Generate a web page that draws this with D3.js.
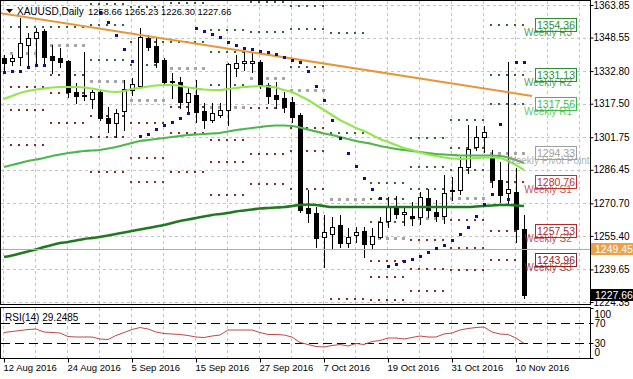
<!DOCTYPE html>
<html><head><meta charset="utf-8">
<script src="https://cdn.jsdelivr.net/npm/d3@7"></script>
<style>
html,body{margin:0;padding:0;background:#fff;}
svg{display:block;}
</style></head><body>
<svg id="c" width="633" height="379"></svg>
<script>
// ---------------- DATA ----------------
const symbolName = "XAUUSD,Daily";
const headerOHLC = [1258.66, 1265.23, 1226.30, 1227.66];
const firstDay = "2016-08-12";
const priceTicks = [1363.85,1348.55,1332.80,1317.50,1301.75,1286.45,1270.70,1255.40,1239.65,1224.35];
const rsiTicks = [100,70,30,0];
const rsiLevels = [70,30];
const hLine = 1249.45;
const lastClose = 1227.66;
const rsiName = "RSI(14) 29.2485";

const open = [1338.96,1337.55,1339.43,1345.06,1348.35,1351.64,1339.90,1338.96,1337.55,1322.99,1321.58,1319.70,1322.99,1310.78,1308.43,1314.06,1323.93,1325.81,1348.35,1344.59,1338.02,1328.15,1327.68,1318.29,1321.58,1314.06,1309.84,1312.19,1314.53,1334.26,1336.61,1336.61,1337.08,1326.28,1321.58,1320.17,1318.29,1312.19,1268.50,1266.15,1254.88,1256.29,1260.52,1252.06,1255.82,1257.70,1251.59,1254.88,1262.40,1268.97,1265.68,1264.74,1264.27,1273.20,1266.62,1264.74,1276.49,1276.96,1287.76,1297.15,1301.85,1291.99,1281.65,1275.55,1276.02,1258.66];
const high = [1340.37,1340.37,1357.75,1350.70,1353.05,1352.58,1345.06,1343.65,1338.02,1327.21,1341.78,1323.93,1323.93,1315.94,1315.00,1328.62,1329.56,1353.05,1349.76,1348.82,1338.96,1331.91,1330.03,1324.87,1328.62,1317.82,1317.82,1317.82,1336.61,1340.37,1341.78,1341.78,1338.02,1327.21,1327.68,1322.99,1320.64,1313.12,1276.96,1268.97,1265.21,1264.27,1265.21,1259.11,1259.58,1259.58,1259.11,1264.27,1273.67,1274.14,1268.50,1271.32,1276.02,1277.42,1272.26,1284.00,1283.06,1292.46,1307.49,1307.02,1307.02,1295.75,1290.11,1337.08,1287.29,1265.23];
const low = [1333.32,1335.67,1335.67,1335.67,1336.61,1335.67,1331.91,1334.73,1320.64,1317.82,1319.23,1315.47,1309.84,1304.20,1301.85,1305.14,1321.58,1324.87,1342.72,1334.73,1327.21,1320.17,1315.47,1313.12,1308.90,1306.08,1308.90,1311.25,1307.49,1330.50,1333.32,1332.38,1324.87,1317.82,1315.47,1313.59,1308.90,1266.62,1261.93,1250.18,1240.79,1249.71,1250.18,1250.18,1252.53,1245.49,1249.71,1254.41,1259.58,1263.80,1260.52,1260.52,1260.99,1264.27,1262.40,1261.46,1272.26,1275.08,1284.94,1295.75,1294.81,1278.36,1271.32,1270.85,1252.53,1226.30];
const close = [1336.61,1338.96,1346.00,1348.35,1351.17,1339.43,1338.02,1337.08,1322.99,1321.11,1321.11,1322.99,1310.78,1308.43,1313.12,1324.40,1326.75,1348.82,1344.12,1337.08,1327.68,1327.68,1318.29,1322.52,1313.59,1309.84,1313.12,1314.53,1336.14,1336.61,1337.55,1337.55,1325.81,1321.11,1319.70,1315.94,1311.25,1267.56,1266.15,1254.41,1257.23,1259.58,1252.06,1254.88,1257.23,1251.59,1255.35,1261.93,1268.97,1265.68,1266.62,1263.80,1273.67,1267.56,1264.74,1275.55,1276.96,1287.76,1296.22,1301.85,1304.20,1281.65,1274.61,1277.42,1258.64,1227.66];

const maFast = [1319.70,1321.11,1322.52,1323.46,1324.16,1324.63,1325.10,1325.34,1325.34,1325.34,1325.10,1324.63,1323.93,1323.22,1322.99,1323.46,1324.40,1324.87,1325.57,1326.04,1326.28,1326.28,1325.81,1325.10,1324.63,1324.16,1323.93,1323.93,1324.40,1324.87,1325.34,1325.57,1325.81,1325.57,1325.10,1323.93,1322.99,1321.11,1319.23,1316.88,1314.53,1312.19,1309.84,1307.96,1306.08,1304.67,1302.79,1300.91,1299.50,1298.09,1296.68,1295.75,1294.57,1293.63,1292.93,1292.22,1291.75,1291.52,1291.75,1291.99,1292.22,1292.22,1291.99,1290.58,1288.70,1286.35];
const maMid = [1287.76,1288.70,1289.64,1290.58,1291.28,1291.99,1292.93,1293.63,1294.34,1294.81,1295.28,1295.51,1295.75,1296.45,1297.15,1298.09,1299.03,1299.97,1300.44,1300.91,1301.38,1301.85,1302.32,1302.79,1303.03,1303.26,1303.50,1303.73,1304.44,1305.14,1305.61,1306.08,1306.55,1307.02,1307.26,1307.26,1307.02,1306.31,1305.38,1304.44,1303.50,1302.79,1301.85,1300.91,1299.97,1299.27,1298.56,1297.62,1296.92,1296.22,1295.75,1295.28,1294.81,1294.34,1293.87,1293.63,1293.40,1293.16,1293.16,1293.16,1293.16,1293.16,1292.93,1292.22,1291.05,1289.64];
const maSlow = [1245.49,1246.19,1247.13,1248.07,1249.01,1250.18,1251.12,1252.06,1252.53,1253.24,1253.94,1254.41,1254.88,1255.59,1256.29,1257.00,1257.70,1258.41,1259.11,1259.82,1260.52,1261.46,1262.40,1263.10,1263.80,1264.51,1265.21,1265.68,1266.15,1266.86,1267.33,1267.80,1268.27,1268.50,1268.74,1268.97,1269.44,1269.91,1270.15,1269.91,1269.44,1268.97,1268.97,1268.97,1268.97,1268.97,1268.97,1268.97,1268.97,1268.97,1268.97,1268.97,1268.97,1268.97,1268.97,1268.97,1268.97,1268.97,1268.97,1269.21,1269.44,1269.68,1269.91,1269.91,1269.68,1269.44];
const sar = [1332.38,1332.85,1332.85,1334.73,1335.67,1335.67,null,null,null,null,null,null,1360.56,1355.87,1349.76,1343.19,1337.55,1302.32,1303.26,1305.61,1307.49,1308.90,1310.78,1313.12,1353.05,1351.64,1350.23,1348.82,1346.47,1345.06,1343.65,1343.19,1342.25,1341.78,1340.84,1339.43,1338.02,1337.08,1332.85,1325.81,1319.23,1309.84,1301.38,1294.34,1288.23,1282.59,1277.42,1273.20,1241.26,1242.20,1243.61,1244.55,1245.96,1247.84,1249.71,1251.12,1253.47,1256.29,1259.58,1264.74,1270.38,1275.08,1307.96,1272.73,1337.08,1337.08];
const rsi = [51,53,55,57,58,52,51,50,43,42,42,42,38,37,45,51,57,61,58,52,49,48,47,45,42,41,44,46,56,56,56,56,51,47,47,46,42,31,27,23,22,25,27,24,29,27,33,35,40,40,38,41,44,42,42,48,50,56,59,61,62,52,48,47,40,29.2485];

// trend line anchors: [bar index, price]
const trendLine = [[-0.5, 1360.1], [66, 1321.1]];

// weekly pivot levels (one value per full week shown)
const pivR3 = [1378.88,1376.06,1364.32,1362.91,1377.00,1352.11,1386.87,1363.38,1381.70,1280.25,1301.38,1309.84,1354.36];
const pivR2 = [1368.08,1367.61,1354.46,1346.47,1364.79,1341.78,1365.26,1352.58,1350.70,1272.73,1287.76,1296.68,1331.13];
const pivR1 = [1353.52,1353.52,1338.02,1335.67,1346.47,1326.28,1351.17,1334.73,1303.73,1261.93,1277.42,1286.35,1317.56];
const pivPP = [1341.31,1345.06,1328.15,1319.23,1334.26,1315.94,1329.56,1323.93,1272.73,1254.41,1263.80,1273.20,1294.33];
const pivS1 = [1325.34,1330.97,1311.72,1308.43,1315.94,1300.44,1315.47,1306.08,1225.76,1243.61,1253.47,1262.87,1280.76];
const pivS2 = [1314.53,1322.52,1301.85,1291.99,1303.73,1290.11,1293.87,1295.28,1194.76,1236.10,1239.85,1249.71,1257.53];
const pivS3 = [1298.09,1308.43,1285.41,1280.71,1285.41,1274.61,1279.78,1277.42,1147.80,1225.29,1229.52,1239.38,1243.96];
const pivNames = ["Weekly R3","Weekly R2","Weekly R1","Weekly Pivot Point","Weekly S1","Weekly S2","Weekly S3"];

// ---------------- CHART ----------------
const W = 633, H = 379;
const FONT = '"Liberation Sans", Arial, sans-serif';
const M = {l:0.5, r:590.5, t:0.5, b:304.5};
const R = {t:307.5, b:358.5};

const parse = d3.timeParse("%Y-%m-%d");
const dates = [];
for (let d = parse(firstDay); dates.length < open.length; d = d3.timeDay.offset(d, 1)) {
  if (d.getDay() !== 0 && d.getDay() !== 6) dates.push(d);
}
const idx = d3.range(open.length);
const x = d3.scaleLinear().domain([0, open.length - 1]).range([4, 524]);
const y = d3.scaleLinear().domain([1224.35, 1363.85]).range([302, 5]);
const yr = d3.scaleLinear().domain([0, 100]).range([358, 308]);
const fmtDate = d3.timeFormat("%-d %b %Y");

const svg = d3.select("#c").attr("font-family", FONT);
svg.append("rect").attr("width", W).attr("height", H).attr("fill", "#fff");
const defs = svg.append("defs");
defs.append("clipPath").attr("id", "mc").append("rect").attr("x", 1).attr("y", 1).attr("width", 589).attr("height", 303);
defs.append("clipPath").attr("id", "rc").append("rect").attr("x", 1).attr("y", 308).attr("width", 589).attr("height", 50);

// grid
const grid = svg.append("g").attr("stroke", "#c4c4c4").attr("stroke-dasharray", "3,3").attr("shape-rendering", "crispEdges");
const gridIdx = d3.range(0, 80, 4).filter(i => x(i) < 590);
gridIdx.forEach(i => {
  const gx = Math.round(x(i)) - 0.5;
  grid.append("line").attr("x1", gx).attr("x2", gx).attr("y1", 1).attr("y2", 304);
  grid.append("line").attr("x1", gx).attr("x2", gx).attr("y1", 308).attr("y2", 358);
});
priceTicks.forEach(p => {
  const gy = Math.round(y(p)) + 0.5;
  grid.append("line").attr("x1", 1).attr("x2", 590).attr("y1", gy).attr("y2", gy);
});

const main = svg.append("g").attr("clip-path", "url(#mc)");

// weekly pivots
const weeks = d3.groups(idx, i => +d3.timeMonday.floor(dates[i])).map(g => g[1]);
const pivWeeks = weeks.slice(weeks.length - pivPP.length);
const pivSets = [
  {v: pivR3, c: "#2f6a2f", s: 2}, {v: pivR2, c: "#2f6a2f", s: 2}, {v: pivR1, c: "#2f6a2f", s: 2},
  {v: pivPP, c: "#a6a6a6", s: 3},
  {v: pivS1, c: "#8a2828", s: 2}, {v: pivS2, c: "#8a2828", s: 2}, {v: pivS3, c: "#8a2828", s: 2}
];
const pivG = main.append("g").attr("shape-rendering", "crispEdges");
pivSets.forEach(set => {
  pivWeeks.forEach((wk, w) => {
    wk.forEach(i => {
      pivG.append("rect")
        .attr("x", Math.round(x(i)) - 2 - (set.s === 3 ? 0.5 : 0))
        .attr("y", Math.round(y(set.v[w])) - Math.floor(set.s / 2))
        .attr("width", set.s).attr("height", set.s).attr("fill", set.c);
    });
  });
});

// candles
const cg = main.append("g");
idx.forEach(i => {
  const cx = Math.round(x(i));
  cg.append("line").attr("x1", cx + 0.5).attr("x2", cx + 0.5)
    .attr("y1", Math.round(y(high[i]))).attr("y2", Math.round(y(low[i])) + 1)
    .attr("stroke", "#000").attr("stroke-width", 1);
  const top = Math.round(y(Math.max(open[i], close[i])));
  const bot = Math.round(y(Math.min(open[i], close[i])));
  const bull = close[i] > open[i];
  if (bull) {
    cg.append("rect").attr("x", cx - 1.5).attr("y", top + 0.5).attr("width", 4).attr("height", Math.max(bot - top, 1))
      .attr("fill", "#fff").attr("stroke", "#000").attr("stroke-width", 1);
  } else {
    cg.append("rect").attr("x", cx - 2).attr("y", top).attr("width", 5).attr("height", Math.max(bot - top, 1) + 1)
      .attr("fill", "#000");
  }
});

// moving averages
const lineGen = arr => d3.line().x((d, i) => x(i)).y(d => y(d)).curve(d3.curveMonotoneX)(arr);
main.append("path").attr("d", lineGen(maSlow)).attr("fill", "none").attr("stroke", "#1f7a1f").attr("stroke-width", 2.6);
main.append("path").attr("d", lineGen(maMid)).attr("fill", "none").attr("stroke", "#4cb84c").attr("stroke-width", 2.2);
main.append("path").attr("d", lineGen(maFast)).attr("fill", "none").attr("stroke", "#94e64e").attr("stroke-width", 2.2);

// horizontal line and trend line
main.append("line").attr("x1", 1).attr("x2", 590).attr("y1", Math.round(y(hLine)) + 0.5).attr("y2", Math.round(y(hLine)) + 0.5)
  .attr("stroke", "#e8a24a").attr("stroke-width", 1);
main.append("line").attr("x1", x(trendLine[0][0])).attr("y1", y(trendLine[0][1]))
  .attr("x2", x(trendLine[1][0])).attr("y2", y(trendLine[1][1]))
  .attr("stroke", "#e8963a").attr("stroke-width", 2);

// parabolic SAR
main.append("g").selectAll("rect").data(idx.filter(i => sar[i] != null)).join("rect")
  .attr("x", i => Math.round(x(i)) - 1).attr("y", i => Math.round(y(sar[i])) - 1)
  .attr("width", 3).attr("height", 3).attr("fill", "#10108a");

// pivot labels for current week
const lblColors = ["#2e8f2e","#2e8f2e","#3cbf3c","#a0a0a0","#c03232","#b02a2a","#922222"];
const lastVals = [pivR3, pivR2, pivR1, pivPP, pivS1, pivS2, pivS3].map(a => a[a.length - 1]);
const lg = main.append("g").attr("font-size", 10);
lastVals.forEach((v, k) => {
  const ly = y(v);
  lg.append("rect").attr("x", 535.5).attr("y", Math.round(ly) - 6.5).attr("width", 41).attr("height", 13)
    .attr("fill", "#fff").attr("stroke", lblColors[k]);
  lg.append("text").attr("x", 556).attr("y", Math.round(ly) + 4).attr("text-anchor", "middle")
    .attr("fill", lblColors[k]).attr("font-size", 10.5).text(d3.format(".2f")(v));
});
lastVals.forEach((v, k) => {
  lg.append("text").attr("x", 548).attr("y", Math.round(y(v)) + 11).attr("text-anchor", "middle")
    .attr("fill", lblColors[k]).attr("fill-opacity", 0.85).text(pivNames[k]);
});

// title
svg.append("path").attr("d", "M6,9L13,9L9.5,13Z").attr("fill", "#000");
svg.append("text").attr("x", 17).attr("y", 14.5).attr("font-size", 10).attr("fill", "#000").text(symbolName);
svg.append("text").attr("x", 88).attr("y", 14.5).attr("font-size", 9.4).attr("fill", "#000")
  .attr("xml:space", "preserve").text(headerOHLC.map(d3.format(".2f")).join(" "));

// RSI panel
const rg = svg.append("g").attr("clip-path", "url(#rc)");
rsiLevels.forEach(l => {
  rg.append("line").attr("x1", 1).attr("x2", 590).attr("y1", yr(l) + 0.5).attr("y2", yr(l) + 0.5)
    .attr("stroke", "#000").attr("stroke-dasharray", "9,5");
});
rg.append("path").attr("d", d3.line().x((d, i) => x(i)).y(d => yr(d))(rsi))
  .attr("fill", "none").attr("stroke", "#c04848").attr("stroke-width", 1);
svg.append("text").attr("x", 5).attr("y", 321).attr("font-size", 10).attr("fill", "#000").text(rsiName);

// borders
const bord = svg.append("g").attr("stroke", "#000").attr("fill", "none").attr("shape-rendering", "crispEdges");
bord.append("rect").attr("x", M.l).attr("y", M.t).attr("width", M.r - M.l).attr("height", M.b - M.t);
bord.append("rect").attr("x", M.l).attr("y", R.t).attr("width", M.r - M.l).attr("height", R.b - R.t);

// price axis
const ay = svg.append("g").attr("transform", `translate(${M.r},0)`)
  .call(d3.axisRight(y).tickValues(priceTicks).tickSize(3).tickPadding(0).tickFormat(d3.format(".2f")));
ay.attr("font-family", FONT).attr("font-size", 10);
ay.select(".domain").remove();
ay.selectAll("line").attr("stroke", "#000");
ay.selectAll("text").attr("fill", "#000");

// RSI axis
const ar = svg.append("g").attr("transform", `translate(${M.r},0)`)
  .call(d3.axisRight(yr).tickValues(rsiTicks).tickSize(3).tickPadding(1).tickFormat(d3.format("d")));
ar.attr("font-family", FONT).attr("font-size", 10);
ar.select(".domain").remove();
ar.selectAll("line").attr("stroke", "#000");
ar.selectAll("text").attr("fill", "#000").attr("dy", d => d === 100 ? "0.95em" : d === 0 ? "-0.3em" : "0.32em");

// price boxes on axis
const boxes = [{v: hLine, bg: "#eea046"}, {v: lastClose, bg: "#000"}];
boxes.forEach(b => {
  const by = Math.round(y(b.v));
  svg.append("rect").attr("x", 591).attr("y", by - 6).attr("width", 42).attr("height", 12).attr("fill", b.bg);
  svg.append("text").attr("x", 595).attr("y", by + 4).attr("font-size", 10.5).attr("fill", "#fff").text(d3.format(".2f")(b.v));
});

// date axis
const ax = svg.append("g").attr("transform", `translate(0,${R.b})`)
  .call(d3.axisBottom(x).tickValues(idx.filter(i => i % 8 === 0)).tickSize(4).tickPadding(2).tickFormat(i => fmtDate(dates[i])));
ax.attr("font-family", FONT).attr("font-size", 9.5);
ax.select(".domain").remove();
ax.selectAll("line").attr("stroke", "#000");
ax.selectAll("text").attr("fill", "#000").attr("text-anchor", "start").attr("x", -1);
</script>
</body></html>
